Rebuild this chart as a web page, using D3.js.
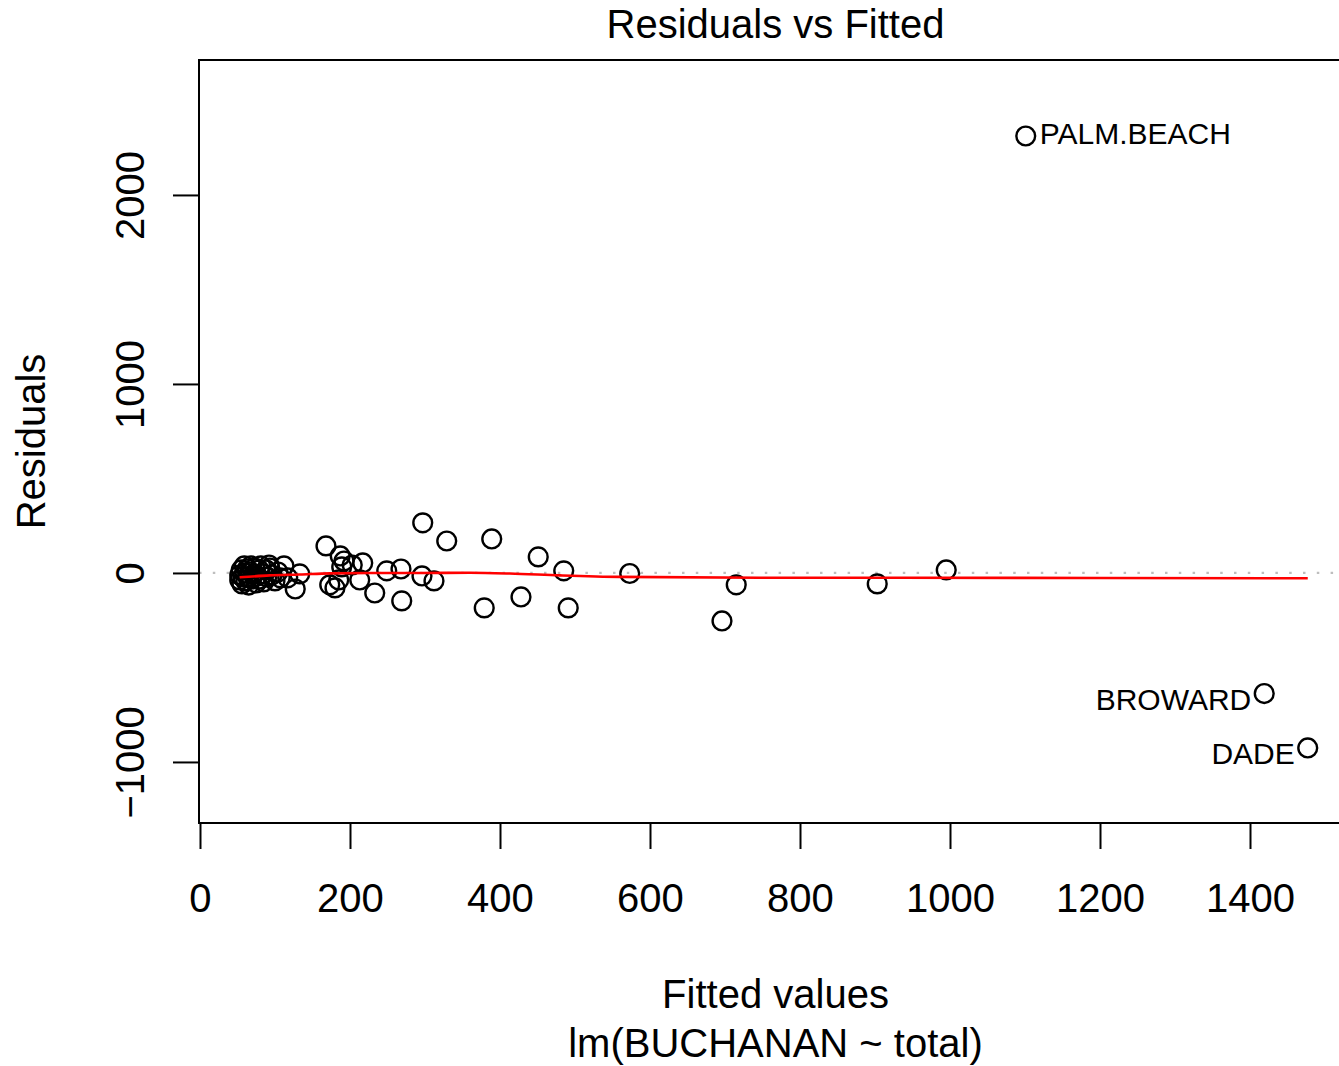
<!DOCTYPE html>
<html>
<head>
<meta charset="utf-8">
<script src="https://cdn.jsdelivr.net/npm/d3@7"></script>
<style>
  body { margin: 0; background: #fff; }
  text { font-family: "Liberation Sans", Arial, Helvetica, sans-serif; fill: #000; }
</style>
</head>
<body>
<svg width="1339" height="1066"></svg>
<script>
// fitted values and residuals of lm(BUCHANAN ~ total), one entry per county
var fittedValues = [
  1101, 1419, 1477, 995, 903, 715, 696, 573, 485, 491,
  451, 428, 389, 379, 329, 297, 312, 296, 268, 269,
  249, 233, 217, 213, 203, 192, 187, 189, 168, 173,
  180, 185, 133, 127, 112, 104, 117, 93,
  53, 53, 55, 56, 57, 59, 60, 61, 63, 64,
  65, 67, 68, 69, 72, 73, 75, 76, 79, 80,
  81, 84, 85, 88, 89, 92, 96, 100, 107
];
var residualValues = [
  2312, -638, -926, 16, -58, -63, -254, -3, 11, -185,
  85, -127, 180, -185, 169, 265, -42, -16, 21, -148,
  11, -106, 53, -37, 42, 63, 90, 32, 143, -63,
  -79, -37, -5, -85, 37, 5, -26, 26,
  -11, -37, 16, -58, -21, 37, 0, -42, 21, -21,
  -64, 5, 37, -32, -5, 26, -53, -16, 16, -32,
  37, -5, -48, 16, -21, 42, -11, -42, -26
];

// labelled extreme residuals (index into the arrays above)
var idIndex = [0, 1, 2];
var idNames = ["PALM.BEACH", "BROWARD", "DADE"];
var idSide = ["right", "left", "left"];

// lowess smoother drawn in red
var smoothX = [53, 93, 133, 173, 227, 293, 360, 413, 480, 560, 747, 933, 1200, 1477];
var smoothY = [-23, -13, -8, -2, 0, 0, 1, -3, -13, -21, -25, -25, -27, -28];

var xTicks = [0, 200, 400, 600, 800, 1000, 1200, 1400];
var yTicks = [-1000, 0, 1000, 2000];

var svg = d3.select("svg"),
    box = {left: 199, top: 60, right: 1352, bottom: 823},
    fontSize = 40;

var x = d3.scaleLinear().domain([-1.33, 1536]).range([box.left, box.right]),
    y = d3.scaleLinear().domain([-1323, 2714]).range([box.bottom, box.top]);

svg.append("defs").append("clipPath")
    .attr("id", "plotclip")
  .append("rect")
    .attr("x", box.left)
    .attr("y", box.top)
    .attr("width", box.right - box.left)
    .attr("height", box.bottom - box.top);

// zero line, gray dotted
svg.append("line")
    .attr("clip-path", "url(#plotclip)")
    .attr("x1", box.left).attr("x2", box.right)
    .attr("y1", y(0)).attr("y2", y(0))
    .attr("stroke", "#bebebe")
    .attr("stroke-width", 2.2)
    .attr("stroke-dasharray", "2.5 11.3");

// points
svg.append("g")
    .attr("clip-path", "url(#plotclip)")
  .selectAll("circle")
  .data(fittedValues)
  .enter().append("circle")
    .attr("cx", function(d) { return x(d); })
    .attr("cy", function(d, i) { return y(residualValues[i]); })
    .attr("r", 9.4)
    .attr("fill", "none")
    .attr("stroke", "#000")
    .attr("stroke-width", 2.4);

// smoother
var line = d3.line()
    .x(function(d) { return x(d); })
    .y(function(d, i) { return y(smoothY[i]); })
    .curve(d3.curveMonotoneX);

svg.append("path")
    .datum(smoothX)
    .attr("clip-path", "url(#plotclip)")
    .attr("d", line)
    .attr("fill", "none")
    .attr("stroke", "#ff0000")
    .attr("stroke-width", 2.6);

// point labels
svg.append("g").selectAll("text")
  .data(idIndex)
  .enter().append("text")
    .attr("x", function(d, i) { return x(fittedValues[d]) + (idSide[i] == "right" ? 14 : -13); })
    .attr("y", function(d) { return y(residualValues[d]) + (residualValues[d] < 0 ? 16 : 8); })
    .attr("text-anchor", function(d, i) { return idSide[i] == "right" ? "start" : "end"; })
    .style("font-size", "30px")
    .text(function(d, i) { return idNames[i]; });

// frame
svg.append("rect")
    .attr("x", box.left)
    .attr("y", box.top)
    .attr("width", box.right - box.left)
    .attr("height", box.bottom - box.top)
    .attr("fill", "none")
    .attr("stroke", "#000")
    .attr("stroke-width", 2);

// x axis, R style
var xAxis = svg.append("g")
    .attr("transform", "translate(0," + box.bottom + ")")
    .call(d3.axisBottom(x).tickValues(xTicks).tickSize(26).tickPadding(34).tickFormat(d3.format("d")));
xAxis.select(".domain").remove();
xAxis.selectAll("line").attr("stroke-width", 2);
xAxis.append("line")
    .attr("x1", x(xTicks[0])).attr("x2", x(xTicks[xTicks.length - 1]))
    .attr("stroke", "#000").attr("stroke-width", 2);
xAxis.selectAll("text")
    .attr("dy", null)
    .attr("y", 89)
    .style("font-size", fontSize + "px")
    .style("font-family", "'Liberation Sans', Arial, sans-serif");

// y axis, labels parallel to the axis
var yAxis = svg.append("g")
    .attr("transform", "translate(" + box.left + ",0)")
    .call(d3.axisLeft(y).tickValues(yTicks).tickSize(26).tickFormat(function(d) { return d < 0 ? "\u2212" + (-d) : d; }));
yAxis.select(".domain").remove();
yAxis.selectAll("line").attr("stroke-width", 2);
yAxis.append("line")
    .attr("y1", y(yTicks[0])).attr("y2", y(yTicks[yTicks.length - 1]))
    .attr("stroke", "#000").attr("stroke-width", 2);
yAxis.selectAll(".tick text")
    .attr("x", null).attr("dy", null)
    .attr("text-anchor", "middle")
    .attr("transform", "translate(-55,0) rotate(-90)")
    .style("font-size", fontSize + "px")
    .style("font-family", "'Liberation Sans', Arial, sans-serif");

// titles
svg.append("text")
    .attr("x", (box.left + box.right) / 2)
    .attr("y", 38)
    .attr("text-anchor", "middle")
    .style("font-size", fontSize + "px")
    .text("Residuals vs Fitted");

svg.append("text")
    .attr("x", (box.left + box.right) / 2)
    .attr("y", 1008)
    .attr("text-anchor", "middle")
    .style("font-size", fontSize + "px")
    .text("Fitted values");

svg.append("text")
    .attr("x", (box.left + box.right) / 2)
    .attr("y", 1057)
    .attr("text-anchor", "middle")
    .style("font-size", fontSize + "px")
    .text("lm(BUCHANAN ~ total)");

svg.append("text")
    .attr("transform", "translate(45," + (box.top + box.bottom) / 2 + ") rotate(-90)")
    .attr("text-anchor", "middle")
    .style("font-size", fontSize + "px")
    .text("Residuals");
</script>
</body>
</html>
